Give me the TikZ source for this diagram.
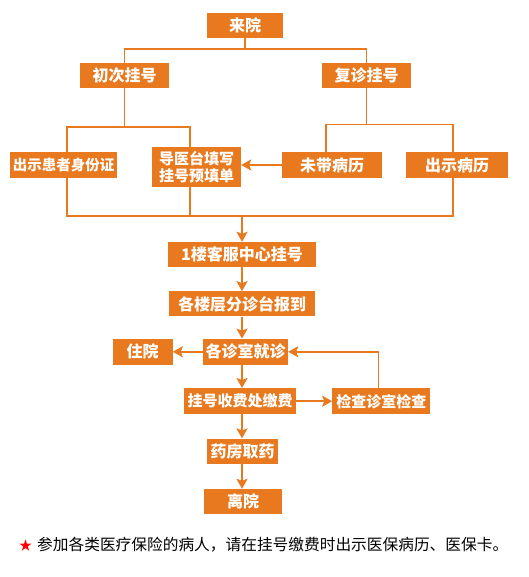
\documentclass[tikz,border=0pt]{standalone}
\usepackage{fontspec}
\setmainfont{Noto Sans CJK SC}
\usetikzlibrary{arrows.meta,positioning}
\definecolor{hosp}{HTML}{E8791E}

\begin{document}
\begin{tikzpicture}[x=1pt,y=-1pt,>={Stealth[length=10pt,width=11pt,inset=2pt]},
  bx/.style={fill=hosp,text=white,inner sep=0pt,minimum height=25pt,font=\bfseries\fontsize{16}{18}\selectfont},
  ln/.style={draw=hosp,line width=1.8pt},
  note/.style={anchor=west,inner sep=0pt,font=\fontsize{15.7}{18}\selectfont}]
\useasboundingbox (0,0) rectangle (528,577);
% top: arrival and the two kinds of registration
\node[bx,minimum width=76pt] (start) at (245,25.5) {来院};
\node[bx,minimum width=89pt] (first) at (124.5,75.5) {初次挂号};
\node[bx,minimum width=89pt] (again) at (366.5,75.5) {复诊挂号};
\node[bx,minimum width=107pt,minimum height=26pt,font=\bfseries\fontsize{14.5}{17}\selectfont] (idcard) at (63.5,165) {出示患者身份证};
\node[bx,minimum width=89pt,minimum height=40pt,align=center,font=\bfseries\fontsize{15}{17.5}\selectfont] (desk) at (196.5,167) {导医台填写\\挂号预填单};
\node[bx,minimum width=100pt,minimum height=26pt] (nocase) at (332,165) {未带病历};
\node[bx,minimum width=102pt,minimum height=26pt] (showcase) at (457,165) {出示病历};
\coordinate (j0) at (245,49);
\coordinate (j1) at (124.5,127);
\coordinate (j2) at (366.5,124.5);
\coordinate (j3) at (242,216);
\draw[ln] (start) -- (j0);
\draw[ln] (first.north) |- (j0) -| (again.north);
\draw[ln] (first) -- (j1);
\draw[ln] ([xshift=3.5pt]idcard.north) |- (j1) -| ([xshift=-6.5pt]desk.north);
\draw[ln] (again) -- (j2);
\draw[ln] ([xshift=-6pt]nocase.north) |- (j2) -| ([xshift=-4pt]showcase.north);
\draw[ln,->] (nocase.west) -- (nocase.west -| desk.east);
\draw[ln] ([xshift=3.5pt]idcard.south) |- (j3) -| ([xshift=-4pt]showcase.south);
\draw[ln] ([xshift=-6.5pt]desk.south) -- ([xshift=-6.5pt]desk.south |- j3);
% main column
\node[bx,minimum width=148pt] (reg) at (242,254.5) {1楼客服中心挂号};
\node[bx,minimum width=146pt,below=24pt of reg] (floor) {各楼层分诊台报到};
\node[bx,minimum width=85pt,minimum height=26pt,below=22pt of floor,xshift=3.5pt] (clinic) {各诊室就诊};
\node[bx,minimum width=60pt,minimum height=26pt,left=30pt of clinic] (inpat) {住院};
\node[bx,minimum width=112pt,minimum height=26pt,below=23pt of clinic,xshift=-5.5pt,font=\bfseries\fontsize{15}{18}\selectfont] (pay) {挂号收费处缴费};
\node[bx,minimum width=98pt,minimum height=26pt,right=36pt of pay,font=\bfseries\fontsize{15}{18}\selectfont] (exam) {检查诊室检查};
\node[bx,minimum width=71pt,below=24pt of pay,xshift=2.5pt] (pharm) {药房取药};
\node[bx,minimum width=78pt,below=25pt of pharm,xshift=0.5pt] (leave) {离院};
\draw[ln,->] (j3) -- (reg);
\draw[ln,->] (reg) -- (floor);
\draw[ln,->] (floor.south -| reg) -- (clinic.north -| reg);
\draw[ln,->] (clinic) -- (inpat);
\draw[ln,->] (clinic.south -| reg) -- (pay.north -| reg);
\draw[ln,->] (pay) -- (exam);
\draw[ln,->] ([xshift=-3pt]exam.north) |- (clinic.east);
\draw[ln,->] (pay.south -| reg) -- (pharm.north -| reg);
\draw[ln,->] (pharm.south -| reg) -- (leave.north -| reg);
% footnote
\node[note] (memo) at (19,545) {{\color{red}\fontsize{13}{15}\selectfont ★}\hspace{5pt}参加各类医疗保险的病人，请在挂号缴费时出示医保病历、医保卡。};
\end{tikzpicture}
\end{document}
